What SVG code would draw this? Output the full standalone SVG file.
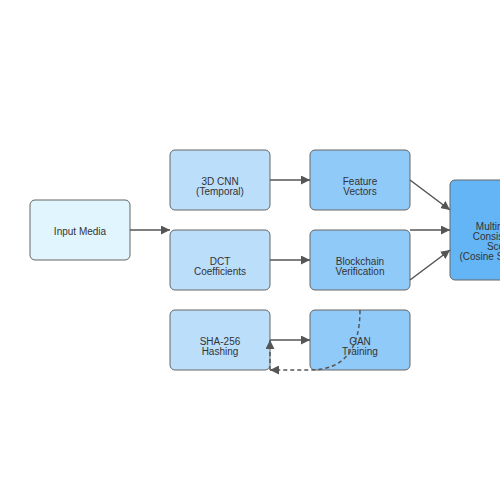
<svg xmlns="http://www.w3.org/2000/svg" width="500" height="500" viewBox="0 0 500 500">
<defs>
<marker id="arr" viewBox="0 0 10 10" refX="10" refY="5" markerWidth="9" markerHeight="9" markerUnits="userSpaceOnUse" orient="auto">
<path d="M0,0 L10,5 L0,10 Z" fill="#555"/>
</marker>
<style>
.node rect{stroke:#666;stroke-width:1;}
.n0{fill:#e1f5fe}.n1{fill:#bbdefb}.n2{fill:#90caf9}.n3{fill:#64b5f6}
text{font-family:"Liberation Sans",Arial,sans-serif;font-size:10px;fill:#333;text-anchor:middle}
.edge{stroke:#555;stroke-width:1.5;fill:none;marker-end:url(#arr)}
.dash{stroke-dasharray:4,3}
</style>
</defs>
<rect width="500" height="500" fill="#fff"/>
<g id="input"><g class="node"><rect class="n0" x="30" y="200" width="100" height="60" rx="5"/></g><text x="80" y="235">Input Media</text></g>
<g id="cnn"><g class="node"><rect class="n1" x="170" y="150" width="100" height="60" rx="5"/></g><text x="220" y="184.5">3D CNN</text><text x="220" y="194.5">(Temporal)</text></g>
<g id="dct"><g class="node"><rect class="n1" x="170" y="230" width="100" height="60" rx="5"/></g><text x="220" y="264.5">DCT</text><text x="220" y="274.5">Coefficients</text></g>
<g id="sha"><g class="node"><rect class="n1" x="170" y="310" width="100" height="60" rx="5"/></g><text x="220" y="344.5">SHA-256</text><text x="220" y="354.5">Hashing</text></g>
<g id="feat"><g class="node"><rect class="n2" x="310" y="150" width="100" height="60" rx="5"/></g><text x="360" y="184.5">Feature</text><text x="360" y="194.5">Vectors</text></g>
<g id="block"><g class="node"><rect class="n2" x="310" y="230" width="100" height="60" rx="5"/></g><text x="360" y="264.5">Blockchain</text><text x="360" y="274.5">Verification</text></g>
<g id="gan"><g class="node"><rect class="n2" x="310" y="310" width="100" height="60" rx="5"/></g><text x="360" y="344.5">GAN</text><text x="360" y="354.5">Training</text></g>
<g id="score"><g class="node"><rect class="n3" x="450" y="180" width="100" height="100" rx="5"/></g><text x="500" y="229.5">Multimodal</text><text x="500" y="239.5">Consistency</text><text x="500" y="249.5">Score</text><text x="500" y="259.5">(Cosine Similarity)</text></g>
<g id="connectors">
<path class="edge" d="M130,230 L170,230"/>
<path class="edge" d="M270,180 L310,180"/>
<path class="edge" d="M270,260 L310,260"/>
<path class="edge" d="M270,340 L310,340"/>
<path class="edge" d="M410,180 L450,210"/>
<path class="edge" d="M410,230 L450,230"/>
<path class="edge" d="M410,280 L450,250"/>
<path class="edge dash" d="M360,310 Q360,370 310,370 L270,370"/>
<path class="edge dash" d="M270,370 L270,340"/>
</g>
</svg>
